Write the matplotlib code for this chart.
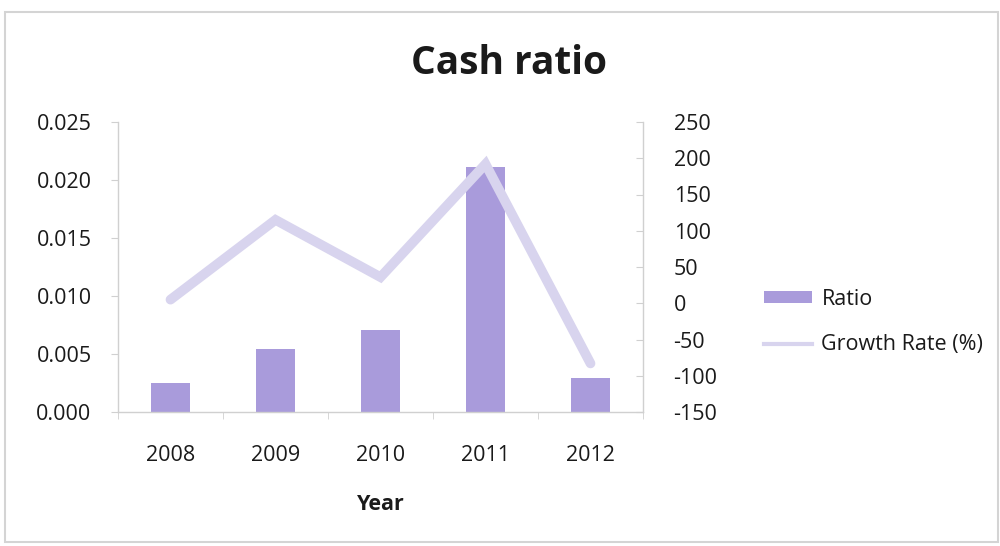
import matplotlib
matplotlib.use("Agg")
import matplotlib.pyplot as plt
from matplotlib.patches import Rectangle, Patch
from matplotlib.lines import Line2D
import numpy as np

plt.rcParams['font.family'] = ['Open Sans', 'DejaVu Sans']
plt.rcParams['axes.unicode_minus'] = False

years = ["2008", "2009", "2010", "2011", "2012"]
ratio = [0.0025, 0.0054, 0.0071, 0.0211, 0.0029]
growth_rate = [5, 115, 36, 192, -83]

left_ticks = [0.000, 0.005, 0.010, 0.015, 0.020, 0.025]
right_ticks = [-150, -100, -50, 0, 50, 100, 150, 200, 250]

bar_color = "#a99bdb"
line_color = "#d8d4ee"
axis_color = "#d0d0d0"
text_color = "#1a1a1a"

W, H = 1000, 546
fig = plt.figure(figsize=(W / 100, H / 100), dpi=100)

# chart frame
fig.patches.append(Rectangle((5 / W, 1 - 542 / H), 993 / W, 530 / H,
                             transform=fig.transFigure, fill=False,
                             edgecolor="#d4d4d4", linewidth=1.5))

ax = fig.add_axes([118 / W, 1 - 412 / H, 525 / W, 290 / H])
ax2 = ax.twinx()

x = np.arange(len(years))
ax.bar(x, ratio, width=0.37, color=bar_color, zorder=2)
ax.set_xlim(-0.5, len(years) - 0.5)
ax.set_ylim(0, 0.025)
ax.set_yticks(left_ticks)
ax.set_yticklabels([f"{v:.3f}" for v in left_ticks])
ax.set_xticks(x)
ax.set_xticklabels(years)
ax.set_xticks(np.arange(len(years) + 1) - 0.5, minor=True)

ax2.plot(x, growth_rate, color=line_color, linewidth=7,
         solid_capstyle="round", solid_joinstyle="miter", zorder=3)
ax2.set_ylim(-150, 250)
ax2.set_yticks(right_ticks)
ax2.set_yticklabels([str(v) for v in right_ticks])

for a in (ax, ax2):
    for s in a.spines.values():
        s.set_color(axis_color)
        s.set_linewidth(1.0)
    a.spines["top"].set_visible(False)
ax.spines["right"].set_visible(False)
ax2.spines["left"].set_visible(False)
ax2.spines["bottom"].set_visible(False)

ax.tick_params(axis="y", direction="out", length=5, color=axis_color,
               labelsize=15.5, labelcolor=text_color, pad=14)
ax.tick_params(axis="x", which="major", length=0, labelsize=15.5,
               labelcolor=text_color, pad=24)
ax.tick_params(axis="x", which="minor", direction="out", length=5,
               color=axis_color)
ax2.tick_params(axis="y", direction="in", length=5, color=axis_color,
                labelsize=15.5, labelcolor=text_color, pad=22)

ax.set_zorder(ax2.get_zorder() - 1)
ax.patch.set_visible(False)

fig.text(509 / W, 1 - 63 / H, "Cash ratio", fontsize=28, fontweight="bold",
         ha="center", va="center", color=text_color)
fig.text(380.5 / W, 1 - 505 / H, "Year", fontsize=15.5, fontweight="bold",
         ha="center", va="center", color=text_color)

handles = [Patch(facecolor=bar_color, edgecolor="none"),
           Line2D([0], [0], color=line_color, linewidth=3)]
fig.legend(handles, ["Ratio", "Growth Rate (%)"], loc="center left",
           bbox_to_anchor=(745 / W, 1 - 322 / H), frameon=False,
           fontsize=15.5, handlelength=2.2, handleheight=0.45,
           handletextpad=0.45, labelspacing=1.15, labelcolor=text_color)

fig.savefig("out.png", dpi=100)
